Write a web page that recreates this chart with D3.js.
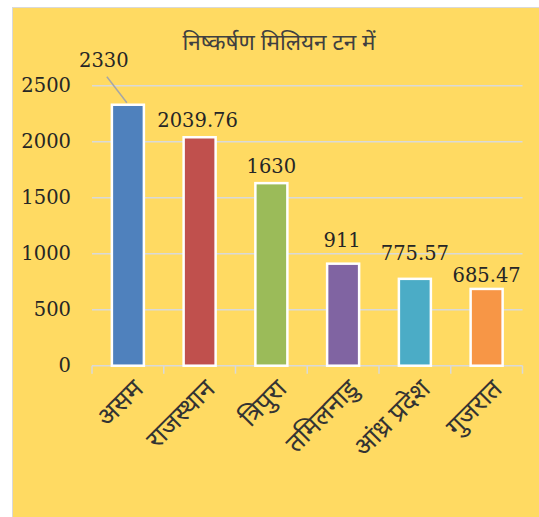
<!DOCTYPE html>
<html>
<head>
<meta charset="utf-8">
<script src="https://cdn.jsdelivr.net/npm/d3@7"></script>
<style>
  body { margin: 0; background: #fff; }
  svg { display: block; }
</style>
</head>
<body>
<div id="chart"></div>
<script>
// data
const states = ["असम", "राजस्थान", "त्रिपुरा", "तमिलनाडु", "आंध्र प्रदेश", "गुजरात"];
const output = [2330, 2039.76, 1630, 911, 775.57, 685.47];
const valueLabels = ["2330", "2039.76", "1630", "911", "775.57", "685.47"];
const yTicks = [0, 500, 1000, 1500, 2000, 2500];
const chartTitle = "निष्कर्षण मिलियन टन में";

// colours + label nudges (as in the original)
const barColors = ["#4F81BD", "#C0504D", "#9BBB59", "#8064A2", "#4BACC6", "#F79646"];
const labelGap = [38, 10, 10, 17, 19, 7];
const labelShift = [-24, -2, 0, -1, 0, 0];

const W = 539, H = 517;
const plot = { left: 92, right: 522.5, top: 85.7, bottom: 365.7 };
const devFont = "'Noto Sans Devanagari', 'Lohit Devanagari', 'Noto Sans', sans-serif";
const numFont = "'DejaVu Serif', serif";

const svg = d3.select("#chart").append("svg")
  .attr("width", W).attr("height", H);

// chart area
svg.append("rect")
  .attr("x", 12.5).attr("y", 7.5)
  .attr("width", W).attr("height", H)
  .attr("fill", "#FFDA62")
  .attr("stroke", "#D9D9D9");

const x = d3.scaleBand()
  .domain(states)
  .range([plot.left, plot.right])
  .paddingInner(0.554)
  .paddingOuter(0.277);

const y = d3.scaleLinear()
  .domain([0, 2500])
  .range([plot.bottom, plot.top]);

// gridlines
svg.append("g")
  .selectAll("line")
  .data(yTicks.slice(1))
  .enter().append("line")
  .attr("x1", plot.left).attr("x2", plot.right)
  .attr("y1", d => y(d)).attr("y2", d => y(d))
  .attr("stroke", "#D9D9D9")
  .attr("stroke-width", 1.5);

// y axis labels
const yAxis = svg.append("g")
  .attr("transform", `translate(${plot.left - 21},0)`)
  .call(d3.axisLeft(y).tickValues(yTicks).tickFormat(d3.format("d")).tickSize(0).tickPadding(0));
yAxis.select(".domain").remove();
yAxis.selectAll("text")
  .attr("font-family", numFont)
  .attr("font-size", 19.5)
  .attr("fill", "#262626");

// x axis line with boundary ticks
const step = x.step();
const bounds = d3.range(states.length + 1).map(i => plot.left + i * step);
const xa = svg.append("g");
xa.append("line")
  .attr("x1", plot.left).attr("x2", plot.right)
  .attr("y1", plot.bottom).attr("y2", plot.bottom)
  .attr("stroke", "#D9D9D9").attr("stroke-width", 1.5);
xa.selectAll("line.tk")
  .data(bounds)
  .enter().append("line")
  .attr("class", "tk")
  .attr("x1", d => d).attr("x2", d => d)
  .attr("y1", plot.bottom).attr("y2", plot.bottom + 8)
  .attr("stroke", "#D9D9D9").attr("stroke-width", 1.5);

// bars
svg.append("g")
  .selectAll("rect")
  .data(output)
  .enter().append("rect")
  .attr("x", (d, i) => x(states[i]))
  .attr("y", d => y(d))
  .attr("width", x.bandwidth())
  .attr("height", d => y(0) - y(d))
  .attr("fill", (d, i) => barColors[i])
  .attr("stroke", "#fff")
  .attr("stroke-width", 2.5);

// leader line for the first label
const cx0 = x(states[0]) + x.bandwidth() / 2;
svg.append("line")
  .attr("x1", cx0 - 21).attr("y1", y(output[0]) - 28)
  .attr("x2", cx0 - 1).attr("y2", y(output[0]) - 2)
  .attr("stroke", "#A6A6A6").attr("stroke-width", 1.5);

// value labels
svg.append("g")
  .selectAll("text")
  .data(output)
  .enter().append("text")
  .attr("x", (d, i) => x(states[i]) + x.bandwidth() / 2 + labelShift[i])
  .attr("y", (d, i) => y(d) - labelGap[i])
  .attr("text-anchor", "middle")
  .attr("font-family", numFont)
  .attr("font-size", 19.5)
  .attr("fill", "#262626")
  .text((d, i) => valueLabels[i]);

// category labels
svg.append("g")
  .selectAll("text")
  .data(states)
  .enter().append("text")
  .attr("transform", d => `translate(${x(d) + x.bandwidth() / 2 + 3},${plot.bottom + 11}) rotate(-45)`)
  .attr("text-anchor", "end")
  .attr("dy", "0.75em")
  .attr("font-family", devFont)
  .attr("font-size", 26)
  .attr("fill", "#333")
  .text(d => d);

// title
svg.append("text")
  .attr("x", 279)
  .attr("y", 50)
  .attr("text-anchor", "middle")
  .attr("font-family", devFont)
  .attr("font-size", 22.5)
  .attr("fill", "#404040")
  .text(chartTitle);
</script>
</body>
</html>
